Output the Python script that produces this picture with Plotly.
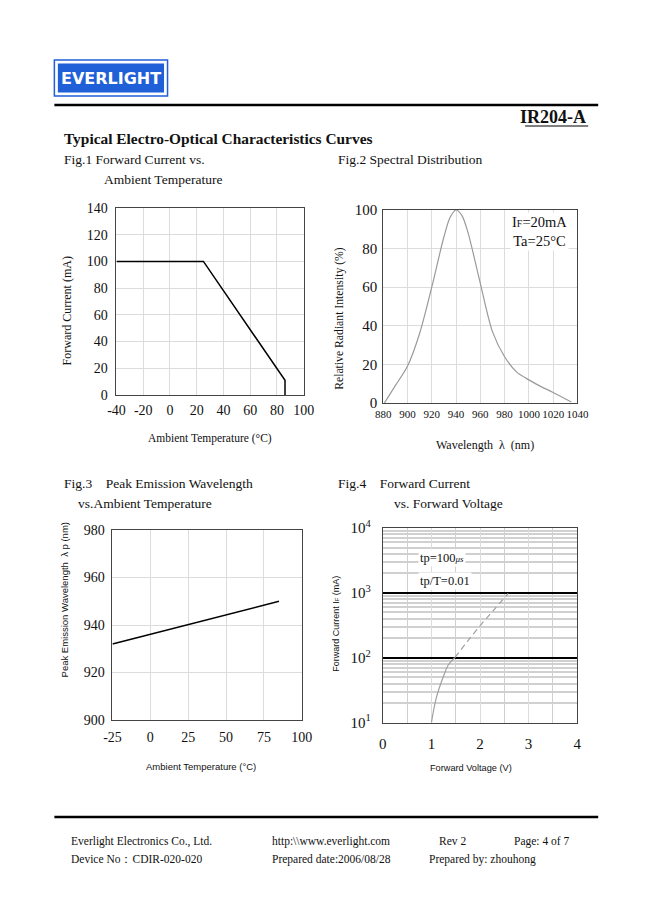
import plotly.graph_objects as go

W, H = 634, 903
# measured mapping between figure pixels and photographed page pixels
SX, OX = 0.967, 9.7
SY, OY = 0.98, 9.0

# ---------------- data ----------------
fig1_temp = [-40, 25, 86, 86]
fig1_current = [100, 100, 11, 0]

fig2_wavelength = [881, 890, 900, 910, 920, 930, 935, 940, 945, 950, 960, 970, 980, 990, 1000, 1010, 1020, 1035]
fig2_intensity = [0, 9, 19, 36, 60, 86, 96, 100, 97, 88, 62, 37, 24, 16, 12, 8.5, 5.5, 0.5]

fig3_temp = [-25, 85]
fig3_peak = [932, 950]

fig4_v_solid = [1.0, 1.1, 1.24, 1.35, 1.48]
fig4_i_solid = [10, 24, 50, 78, 100]
fig4_v_dash = [1.48, 1.75, 2.03, 2.30, 2.58]
fig4_i_dash = [100, 182, 330, 563, 980]

fig1_xticks = [-40, -20, 0, 20, 40, 60, 80, 100]
fig1_xticktext = ["-40", "-20", "0", "20", "40", "60", "80", "100"]
fig1_yticks = [0, 20, 40, 60, 80, 100, 120, 140]
fig2_xticks = [880, 900, 920, 940, 960, 980, 1000, 1020, 1040]
fig2_yticks = [0, 20, 40, 60, 80, 100]
fig3_xticks = [-25, 0, 25, 50, 75, 100]
fig3_xticktext = ["-25", "0", "25", "50", "75", "100"]
fig3_yticks = [900, 920, 940, 960, 980]
fig4_xticks = [0, 1, 2, 3, 4]
fig4_yticks = [10, 100, 1000, 10000]
fig4_yticktext = ["10<sup>1</sup>", "10<sup>2</sup>", "10<sup>3</sup>", "10<sup>4</sup>"]


def px(x):
    return ((x - OX) / SX) / W


def py(y):
    return 1 - ((y - OY) / SY) / H


SERIF = "Liberation Serif"
SANS = "Liberation Sans"
GRID = "#dcdcdc"
BORDER = "#444444"

fig = go.Figure()

fig.add_trace(go.Scatter(x=fig1_temp, y=fig1_current, mode="lines",
                         line=dict(color="black", width=1.5), xaxis="x", yaxis="y", showlegend=False))
fig.add_trace(go.Scatter(x=fig2_wavelength, y=fig2_intensity, mode="lines",
                         line=dict(color="#9a9a9a", width=1.2, shape="spline", smoothing=0.8),
                         xaxis="x2", yaxis="y2", showlegend=False))
fig.add_trace(go.Scatter(x=fig3_temp, y=fig3_peak, mode="lines",
                         line=dict(color="black", width=1.5), xaxis="x3", yaxis="y3", showlegend=False))
fig.add_trace(go.Scatter(x=fig4_v_solid, y=fig4_i_solid, mode="lines",
                         line=dict(color="#a0a0a0", width=1.2, shape="spline"),
                         xaxis="x4", yaxis="y4", showlegend=False))
fig.add_trace(go.Scatter(x=fig4_v_dash, y=fig4_i_dash, mode="lines",
                         line=dict(color="#a0a0a0", width=1.2, dash="6px,4px", shape="spline"),
                         xaxis="x4", yaxis="y4", showlegend=False))


def base_axis(**kw):
    d = dict(showline=True, linecolor=BORDER, linewidth=1, mirror=True,
             showgrid=True, gridcolor=GRID, gridwidth=1, zeroline=False,
             ticks="", tickangle=0, tickfont=dict(family=SERIF, size=14, color="#111"))
    d.update(kw)
    return d


layout = dict(
    width=W, height=H, margin=dict(l=0, r=0, t=0, b=0),
    paper_bgcolor="white", plot_bgcolor="white", showlegend=False,
    xaxis=base_axis(domain=[px(117), px(304)], range=[-40, 100], tickvals=fig1_xticks,
                    ticktext=fig1_xticktext, anchor="y", ticklabelstandoff=2),
    yaxis=base_axis(domain=[py(394), py(207)], range=[0, 140], tickvals=fig1_yticks,
                    anchor="x", ticklabelstandoff=5),
    xaxis2=base_axis(domain=[px(383.3), px(577.3)], range=[880, 1040], tickvals=fig2_xticks,
                     anchor="y2", tickfont=dict(family=SERIF, size=11, color="#111"), ticklabelstandoff=1),
    yaxis2=base_axis(domain=[py(402), py(209)], range=[0, 100], tickvals=fig2_yticks,
                     anchor="x2", tickfont=dict(family=SERIF, size=15, color="#111"), ticklabelstandoff=2),
    xaxis3=base_axis(domain=[px(113), px(302)], range=[-25, 100], tickvals=fig3_xticks,
                     ticktext=fig3_xticktext, anchor="y3", ticklabelstandoff=4),
    yaxis3=base_axis(domain=[py(719), py(529)], range=[900, 980], tickvals=fig3_yticks,
                     anchor="x3", ticklabelstandoff=4),
    xaxis4=base_axis(domain=[px(383), px(577)], range=[0, 4], tickvals=fig4_xticks,
                     anchor="y4", tickfont=dict(family=SERIF, size=15, color="#111"), ticklabelstandoff=7,
                     minor=dict(dtick=0.5, tick0=0, showgrid=True, gridcolor="#cfcfcf", ticks="")),
    yaxis4=base_axis(domain=[py(721.5), py(527)], type="log", range=[1, 4], tickvals=fig4_yticks,
                     ticktext=fig4_yticktext, anchor="x4", gridcolor="black", gridwidth=2,
                     tickfont=dict(family=SERIF, size=15, color="#111"), ticklabelstandoff=8,
                     minor=dict(tickvals=[m * 10 ** e for e in (1, 2, 3) for m in range(2, 10)],
                                showgrid=True, gridcolor="#d0d0d0", ticks="")),
)
fig.update_layout(**layout)

BLUE = "#1f5fd8"
shapes = [
    dict(type="rect", xref="paper", yref="paper", x0=px(55), x1=px(168), y0=py(95), y1=py(59),
         line=dict(color=BLUE, width=1.5), fillcolor="white"),
    dict(type="rect", xref="paper", yref="paper", x0=px(58.5), x1=px(164.5), y0=py(91.5), y1=py(62.5),
         line=dict(width=0), fillcolor=BLUE),
    dict(type="line", xref="paper", yref="paper", x0=px(55), x1=px(598), y0=py(104), y1=py(104),
         line=dict(color="black", width=2.5)),
    dict(type="line", xref="paper", yref="paper", x0=px(525), x1=px(588), y0=py(125), y1=py(125),
         line=dict(color="black", width=1.2)),
    dict(type="line", xref="paper", yref="paper", x0=px(55), x1=px(598), y0=py(816), y1=py(816),
         line=dict(color="black", width=2.5)),
]
fig.update_layout(shapes=shapes)

ann = []


def text(x, y, s, size=13, family=SERIF, xanchor="left", angle=0, bold=False, bg=None, color="#111",
         align="left"):
    a = dict(x=px(x), y=py(y), xref="paper", yref="paper", text=("<b>%s</b>" % s) if bold else s,
             showarrow=False, xanchor=xanchor, yanchor="middle", textangle=angle, align=align,
             font=dict(family=family, size=size, color=color))
    if bg:
        a["bgcolor"] = bg
    ann.append(a)


text(111.5, 77, "EVERLIGHT", size=16, family="DejaVu Sans", xanchor="center", bold=True, color="white")
text(588, 116, "IR204-A", size=18, xanchor="right", bold=True)
text(63, 137, "Typical Electro-Optical Characteristics Curves", size=15.4, bold=True)
text(63, 158, "Fig.1 Forward Current vs.", size=13.5)
text(103, 178, "Ambient Temperature", size=13.5)
text(336, 158, "Fig.2 Spectral Distribution", size=13.5)
text(63, 482, "Fig.3&nbsp;&nbsp;&nbsp;&nbsp;Peak Emission Wavelength", size=13.5)
text(77, 502, "vs.Ambient Temperature", size=13.5)
text(336, 482, "Fig.4&nbsp;&nbsp;&nbsp;&nbsp;Forward Current", size=13.5)
text(392, 502, "vs. Forward Voltage", size=13.5)

# axis titles
text(68, 310, "Forward Current (mA)", size=12, xanchor="center", angle=-90)
text(210, 437, "Ambient Temperature (°C)", size=11.5, xanchor="center")
text(339, 317, "Relative Radiant Intensity (%)", size=11.7, xanchor="center", angle=-90)
text(485, 444, "Wavelength&nbsp;&nbsp;λ&nbsp;&nbsp;(nm)", size=12, xanchor="center")
text(65, 599, "Peak Emission Wavelength&nbsp;&nbsp;λ p (nm)", size=9.5, family=SANS, xanchor="center", angle=-90)
text(201, 765, "Ambient Temperature (°C)", size=9.5, family=SANS, xanchor="center")
text(336, 623, "Forward Current I<span style='font-size:6px'>F</span> (mA)", size=9, family=SANS,
     xanchor="center", angle=-90)
text(471, 767, "Forward Voltage (V)", size=9.2, family=SANS, xanchor="center")

# in-plot annotations
text(539, 230, "I<span style='font-size:10px'>F</span>=20mA<br>Ta=25°C", size=14.5, xanchor="center",
     bg="white", align="center")
text(418, 557, "tp=100<span style='font-size:9px;font-style:italic'>μs</span>", size=12.5, bg="white")
text(418, 580, "tp/T=0.01", size=12.5, bg="white")

# footer
for x, y, s in [(70, 840, "Everlight Electronics Co., Ltd."), (270, 840, "http:\\\\www.everlight.com"),
                (437, 840, "Rev 2"), (512, 840, "Page: 4 of 7"),
                (70, 858, "Device No：CDIR-020-020"), (270, 858, "Prepared date:2006/08/28"),
                (427, 858, "Prepared by: zhouhong")]:
    text(x, y, s, size=11.5)

fig.update_layout(annotations=ann)
fig.write_html("out.html")
